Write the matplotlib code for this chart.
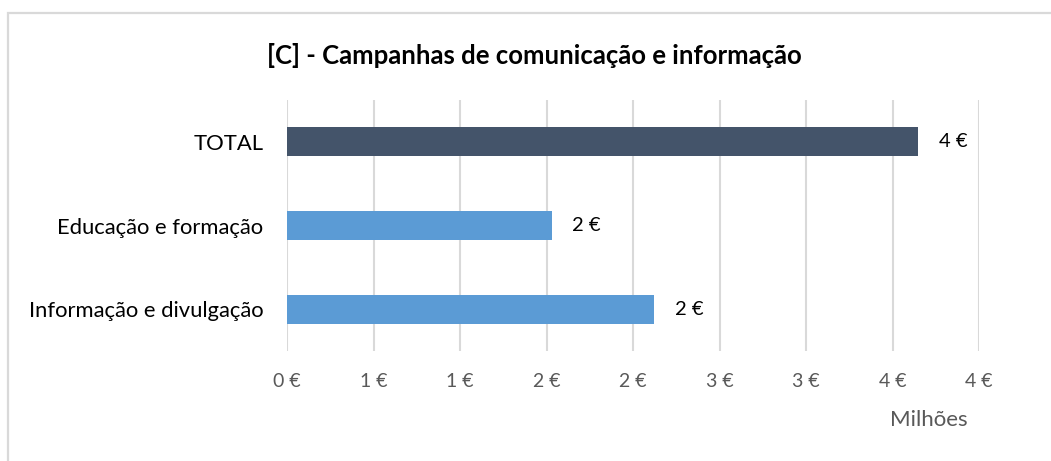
import matplotlib.pyplot as plt
from matplotlib.patches import Rectangle

plt.rcParams['font.family'] = ['Lato', 'DejaVu Sans']

# data (milhões de euros)
categories = ['Informação e divulgação', 'Educação e formação', 'TOTAL']
values = [2.12, 1.53, 3.65]
bar_colors = ['#5B9BD5', '#5B9BD5', '#44546A']
tick_values = [0, 0.5, 1, 1.5, 2, 2.5, 3, 3.5, 4]
tick_labels = ['0 €', '1 €', '1 €', '2 €', '2 €', '3 €', '3 €', '4 €', '4 €']
data_labels = ['2 €', '2 €', '4 €']

W, H = 1051, 461
fig = plt.figure(figsize=(W / 100, H / 100), dpi=100)

# outer chart border (cut at right and bottom)
fig.patches.append(Rectangle((7.5 / W, -0.1), 1.2, 1 - 13 / H + 0.1,
                             transform=fig.transFigure, fill=False,
                             edgecolor='#d9d9d9', linewidth=1.6))

ax = fig.add_axes([287 / W, 1 - 351 / H, (979 - 287) / W, (351 - 100) / H])
y = range(len(categories))
ax.barh(y, values, height=0.35, color=bar_colors, zorder=3)

ax.set_xlim(0, 4)
ax.set_ylim(-0.5, 2.5)
ax.set_xticks(tick_values)
ax.set_xticklabels(tick_labels, color='#595959', fontsize=14)
ax.set_yticks(list(y))
ax.set_yticklabels(categories, fontsize=15.8, color='#000000')
ax.tick_params(axis='x', length=0, pad=16)
ax.tick_params(axis='y', length=0, pad=17)
ax.grid(axis='x', color='#d9d9d9', linewidth=1.5, zorder=0)
for s in ax.spines.values():
    s.set_visible(False)

for yi, v, lab in zip(y, values, data_labels):
    ax.text(v + 0.12, yi, lab, va='center', ha='left', fontsize=14.5, color='#000000')

fig.text(534 / W, 1 - 55 / H, '[C] - Campanhas de comunicação e informação',
         ha='center', va='center', fontsize=18.5, fontweight='bold', color='#000000')
fig.text(929 / W, 1 - 420 / H, 'Milhões', ha='center', va='center',
         fontsize=16, color='#595959')

fig.savefig('out.png', dpi=100, facecolor='white')
